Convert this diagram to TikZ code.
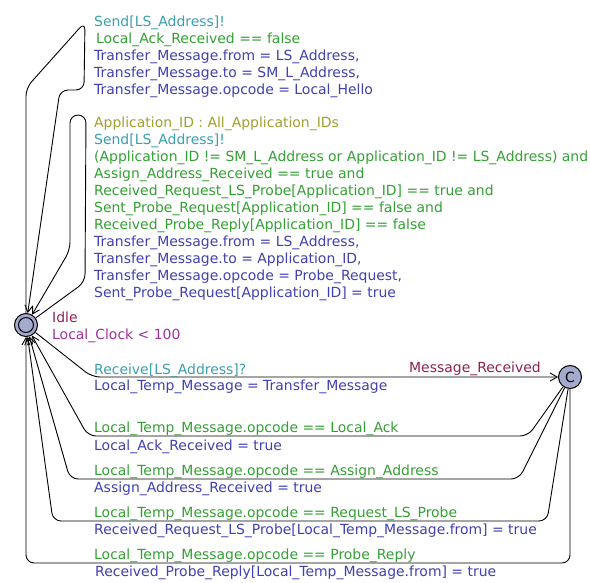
\documentclass[tikz,border=0pt]{standalone}
\usepackage{fontspec}
\setmainfont{DejaVu Sans}
\usetikzlibrary{arrows.meta}
\definecolor{selcol}{HTML}{A0A030}
\definecolor{syncol}{HTML}{3A9FB0}
\definecolor{grdcol}{HTML}{33A033}
\definecolor{updcol}{HTML}{4040B0}
\definecolor{namcol}{HTML}{902050}
\definecolor{invcol}{HTML}{A030A0}
\definecolor{locfill}{HTML}{A3AACC}
\begin{document}
\begin{tikzpicture}[x=1pt,y=-1pt,
    every node/.style={font=\fontsize{13.95}{17}\selectfont},
    lab/.style={anchor=base west,inner sep=0pt},
    sel/.style={lab,text=selcol},
    syn/.style={lab,text=syncol},
    grd/.style={lab,text=grdcol},
    upd/.style={lab,text=updcol},
    nam/.style={lab,text=namcol},
    inv/.style={lab,text=invcol},
    loc/.style={circle,draw,line width=1pt,fill=locfill,minimum size=23pt,inner sep=0pt},
    edge/.style={line width=0.9pt,rounded corners=8pt},
    >={Straight Barb[length=7pt,width=8pt]}]
    \useasboundingbox (0,0) rectangle (590,583);

    % locations
    \node[loc] (idle) at (26,325) {};
    \draw[line width=1pt] (idle) circle (7.5);
    \node[loc] (recv) at (570,377) {C};
    \node[nam] (idlename) at (52,323) {Idle};
    \node[inv] (idleinv) at (52,340) {Local\_Clock < 100};
    \node[nam] (recvname) at (409,373) {Message\_Received};

    % self loops
    \draw[edge,->] (idle) -- (26,88) -- (85,22) -- (84,90) -- (60,90) -- (idle);
    \draw[edge,->] (idle) -- (85,282) -- (86,115) -- (70,115) -- (70,250) -- (idle);

    % idle -> recv and back
    \draw[edge,->] (idle) -- (92,377) -- (recv);
    \draw[edge,->] (recv) -- (528,436) -- (88,436) -- (idle);
    \draw[edge,->] (recv) -- (519,479) -- (70,479) -- (idle);
    \draw[edge,->] (recv) -- (547,521) -- (53,521) -- (idle);
    \draw[edge,->] (recv) -- (570,563) -- (26,563) -- (idle);

    % labels of the first loop
    \node[syn] (sync1) at (94,26.5) {Send[LS\_Address]!};
    \node[grd] (guard1) at (96,43.5) {Local\_Ack\_Received == false};
    \node[upd] (upd1a) at (94,60.5) {Transfer\_Message.from = LS\_Address,};
    \node[upd] (upd1b) at (94,77.5) {Transfer\_Message.to = SM\_L\_Address,};
    \node[upd] (upd1c) at (94,94.5) {Transfer\_Message.opcode = Local\_Hello};

    % labels of the second loop
    \node[sel] (sel2) at (94,128) {Application\_ID : All\_Application\_IDs};
    \node[syn] (sync2) at (94,145) {Send[LS\_Address]!};
    \node[grd] (guard2a) at (94,162) {(Application\_ID != SM\_L\_Address or Application\_ID != LS\_Address) and};
    \node[grd] (guard2b) at (94,179) {Assign\_Address\_Received == true and};
    \node[grd] (guard2c) at (94,196) {Received\_Request\_LS\_Probe[Application\_ID] == true and};
    \node[grd] (guard2d) at (94,213) {Sent\_Probe\_Request[Application\_ID] == false and};
    \node[grd] (guard2e) at (94,230) {Received\_Probe\_Reply[Application\_ID] == false};
    \node[upd] (upd2a) at (94,247) {Transfer\_Message.from = LS\_Address,};
    \node[upd] (upd2b) at (94,264) {Transfer\_Message.to = Application\_ID,};
    \node[upd] (upd2c) at (94,281) {Transfer\_Message.opcode = Probe\_Request,};
    \node[upd] (upd2d) at (94,298) {Sent\_Probe\_Request[Application\_ID] = true};

    % labels of the bottom edges
    \node[syn] (sync3) at (94,374) {Receive[LS\_Address]?};
    \node[upd] (upd3) at (94,391) {Local\_Temp\_Message = Transfer\_Message};
    \node[grd] (guard4) at (94,432.5) {Local\_Temp\_Message.opcode == Local\_Ack};
    \node[upd] (upd4) at (94,450) {Local\_Ack\_Received = true};
    \node[grd] (guard5) at (94,475) {Local\_Temp\_Message.opcode == Assign\_Address};
    \node[upd] (upd5) at (94,492) {Assign\_Address\_Received = true};
    \node[grd] (guard6) at (94,517) {Local\_Temp\_Message.opcode == Request\_LS\_Probe};
    \node[upd] (upd6) at (94,534) {Received\_Request\_LS\_Probe[Local\_Temp\_Message.from] = true};
    \node[grd] (guard7) at (94,559) {Local\_Temp\_Message.opcode == Probe\_Reply};
    \node[upd] (upd7) at (95,576) {Received\_Probe\_Reply[Local\_Temp\_Message.from] = true};
\end{tikzpicture}
\end{document}
